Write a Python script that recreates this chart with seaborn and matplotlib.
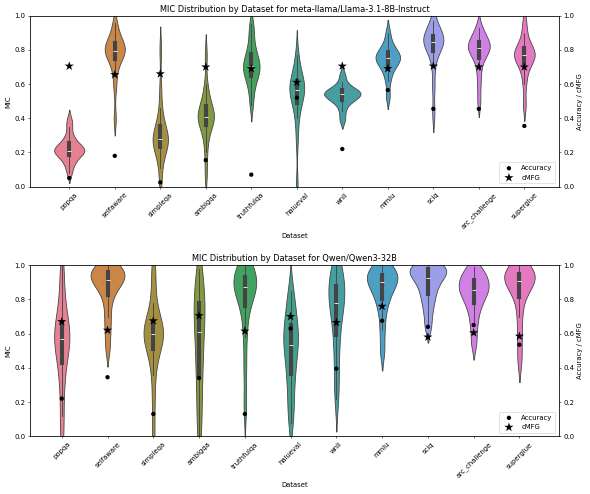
import numpy as np
import pandas as pd
import seaborn as sns
import matplotlib
matplotlib.use("Agg")
import matplotlib.pyplot as plt

datasets = ["popqa", "selfaware", "simpleqa", "ambigqa", "truthfulqa", "halueval",
            "wnli", "mmlu", "sciq", "arc_challenge", "superglue"]

# MIC samples per dataset - Llama
llama_mic = {
    "popqa": [0.08, 0.12, 0.15, 0.16, 0.18, 0.195, 0.20, 0.21, 0.21, 0.21, 0.225, 0.23, 0.24, 0.26, 0.27, 0.30, 0.35, 0.39],
    "selfaware": [0.40, 0.58, 0.66, 0.71, 0.74, 0.76, 0.775, 0.785, 0.79, 0.80, 0.81, 0.82, 0.83, 0.84, 0.86, 0.88, 0.92, 0.96],
    "simpleqa": [0.02, 0.11, 0.17, 0.21, 0.23, 0.245, 0.26, 0.27, 0.275, 0.285, 0.295, 0.31, 0.33, 0.36, 0.40, 0.46, 0.58, 0.80],
    "ambigqa": [0.08, 0.20, 0.28, 0.33, 0.36, 0.38, 0.39, 0.40, 0.41, 0.42, 0.435, 0.45, 0.47, 0.50, 0.54, 0.60, 0.77],
    "truthfulqa": [0.48, 0.55, 0.60, 0.63, 0.65, 0.67, 0.69, 0.70, 0.71, 0.73, 0.75, 0.77, 0.80, 0.84, 0.90, 0.95],
    "halueval": [0.00, 0.28, 0.40, 0.46, 0.50, 0.53, 0.55, 0.56, 0.57, 0.58, 0.59, 0.61, 0.63, 0.66, 0.70, 0.77],
    "wnli": [0.39, 0.44, 0.48, 0.50, 0.51, 0.52, 0.53, 0.54, 0.54, 0.55, 0.555, 0.56, 0.57, 0.585, 0.61, 0.655],
    "mmlu": [0.53, 0.62, 0.67, 0.70, 0.72, 0.735, 0.745, 0.755, 0.765, 0.775, 0.79, 0.81, 0.84, 0.90],
    "sciq": [0.43, 0.58, 0.70, 0.77, 0.80, 0.82, 0.835, 0.845, 0.85, 0.86, 0.87, 0.88, 0.895, 0.91, 0.94, 0.97],
    "arc_challenge": [0.50, 0.60, 0.68, 0.74, 0.77, 0.79, 0.80, 0.81, 0.82, 0.83, 0.84, 0.855, 0.87, 0.90, 0.93],
    "superglue": [0.48, 0.60, 0.67, 0.71, 0.735, 0.75, 0.76, 0.77, 0.78, 0.79, 0.80, 0.82, 0.85, 0.90, 0.97],
}
llama_acc = [0.05, 0.18, 0.025, 0.155, 0.07, 0.52, 0.22, 0.565, 0.455, 0.455, 0.355]
llama_cmfg = [0.705, 0.655, 0.66, 0.70, 0.69, 0.61, 0.705, 0.69, 0.705, 0.70, 0.70]

# Qwen
qwen_mic = {
    "popqa": [0.00, 0.12, 0.26, 0.36, 0.43, 0.48, 0.52, 0.55, 0.57, 0.59, 0.61, 0.64, 0.67, 0.72, 0.79, 0.89, 1.00],
    "selfaware": [0.52, 0.62, 0.70, 0.78, 0.84, 0.87, 0.896, 0.908, 0.92, 0.932, 0.944, 0.956, 0.968, 0.98, 0.99, 1.00],
    "simpleqa": [0.00, 0.20, 0.36, 0.46, 0.51, 0.55, 0.57, 0.59, 0.60, 0.61, 0.62, 0.64, 0.66, 0.70, 0.78, 0.90, 1.00],
    "ambigqa": [0.00, 0.10, 0.20, 0.30, 0.38, 0.45, 0.52, 0.58, 0.64, 0.69, 0.73, 0.77, 0.81, 0.86, 0.92, 0.98],
    "truthfulqa": [0.18, 0.40, 0.58, 0.70, 0.78, 0.82, 0.85, 0.87, 0.88, 0.89, 0.91, 0.93, 0.94, 0.96, 0.98, 1.00],
    "halueval": [0.08, 0.16, 0.24, 0.32, 0.38, 0.43, 0.48, 0.52, 0.55, 0.58, 0.61, 0.64, 0.68, 0.73, 0.79, 0.85],
    "wnli": [0.22, 0.33, 0.45, 0.55, 0.63, 0.70, 0.745, 0.78, 0.81, 0.84, 0.86, 0.90, 0.94, 0.98, 1.00],
    "mmlu": [0.50, 0.62, 0.72, 0.78, 0.82, 0.85, 0.88, 0.90, 0.91, 0.92, 0.94, 0.95, 0.97, 0.99, 1.00],
    "sciq": [0.64, 0.72, 0.78, 0.82, 0.86, 0.89, 0.915, 0.94, 0.95, 0.965, 0.98, 0.99, 1.00, 1.00],
    "arc_challenge": [0.55, 0.65, 0.72, 0.77, 0.80, 0.83, 0.85, 0.86, 0.88, 0.90, 0.92, 0.94, 0.96, 0.99],
    "superglue": [0.45, 0.58, 0.70, 0.80, 0.85, 0.88, 0.90, 0.92, 0.93, 0.94, 0.95, 0.96, 0.98, 1.00],
}
qwen_acc = [0.22, 0.345, 0.13, 0.34, 0.13, 0.63, 0.395, 0.675, 0.64, 0.65, 0.535]
qwen_cmfg = [0.67, 0.62, 0.675, 0.705, 0.615, 0.70, 0.665, 0.76, 0.58, 0.605, 0.585]

models = [
    ("meta-llama/Llama-3.1-8B-Instruct", llama_mic, llama_acc, llama_cmfg),
    ("Qwen/Qwen3-32B", qwen_mic, qwen_acc, qwen_cmfg),
]

fig, axes = plt.subplots(2, 1, figsize=(12, 10.05))
fig.subplots_adjust(left=0.051, right=0.947, top=0.968, bottom=0.117, hspace=0.46)

for ax, (name, mic, acc, cmfg) in zip(axes, models):
    rows = [(d, v) for d in datasets for v in mic[d]]
    df = pd.DataFrame(rows, columns=["Dataset", "MIC"])
    sns.violinplot(data=df, x="Dataset", y="MIC", hue="Dataset", order=datasets,
                   hue_order=datasets, palette="husl", legend=False, inner="box",
                   bw_adjust=0.7, common_norm=True, linewidth=1.2, linecolor="#444444",
                   inner_kws=dict(box_width=6, whis_width=1.3, color="#444444"), ax=ax)
    ax.set_ylim(0, 1)
    ax.set_title(f"MIC Distribution by Dataset for {name}")
    ax.set_xlabel("Dataset")
    ax.set_ylabel("MIC")

    ax2 = ax.twinx()
    sns.scatterplot(x=datasets, y=acc, color="black", marker="o", s=40,
                    edgecolor="none", label="Accuracy", ax=ax2)
    sns.scatterplot(x=datasets, y=cmfg, color="black", marker="*", s=200,
                    edgecolor="none", label="cMFG", ax=ax2)
    ax2.set_ylim(0, 1)
    ax2.set_ylabel("Accuracy / cMFG")
    ax2.legend(loc="lower right")
    ax.set_xticks(range(len(datasets)))
    ax.set_xticklabels(datasets, rotation=45)

fig.savefig("out.png", dpi=590 / 12)
